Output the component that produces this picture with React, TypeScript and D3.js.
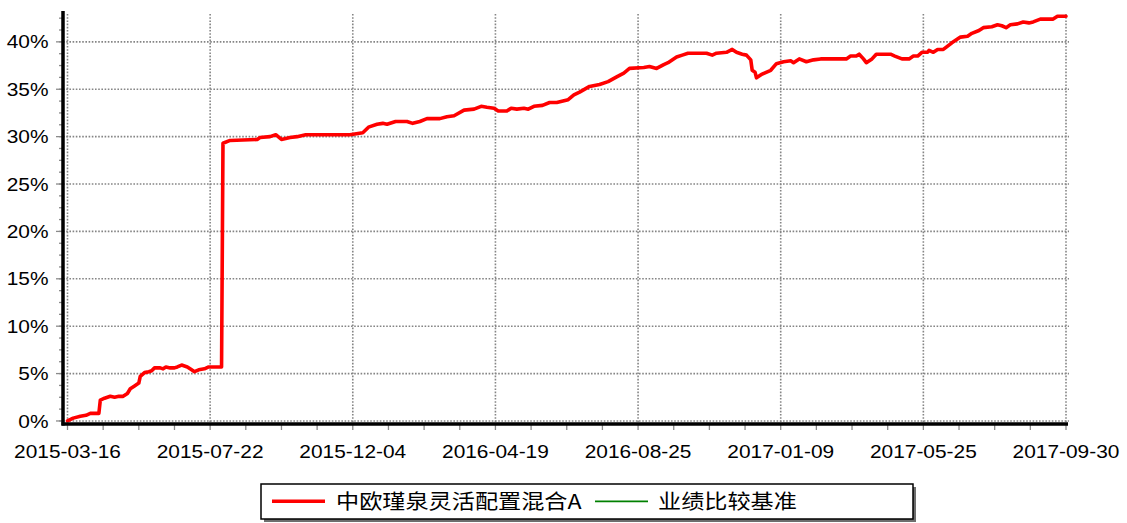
import React from "react";
import * as d3 from "d3";

// trading-day position on a 0..700 axis (each date label every 100)
const dayIndex = [
  0, 4, 9, 13, 16, 22, 23, 26, 30, 33, 36, 39, 42, 44, 47, 50, 51, 54, 57, 59,
  61, 65, 67, 69, 72, 75, 77, 80, 84, 87, 89, 92, 96, 99, 108, 109, 114, 133, 135, 142,
  146, 150, 156, 161, 167, 198, 207, 211, 217, 221, 224, 230, 238, 242, 247, 252, 261, 266, 271, 278,
  285, 290, 294, 299, 302, 308, 311, 315, 320, 323, 327, 333, 338, 343, 351, 355, 359, 366, 373, 379,
  385, 390, 394, 404, 408, 413, 418, 421, 427, 431, 435, 448, 452, 455, 462, 466, 469, 473, 476, 479,
  480, 482, 483, 487, 493, 497, 502, 507, 509, 513, 518, 523, 528, 546, 549, 553, 555, 558, 560, 564,
  567, 577, 580, 585, 590, 593, 596, 599, 603, 604, 607, 610, 614, 620, 626, 631, 634, 639, 642, 648,
  652, 655, 658, 661, 666, 670, 674, 677, 682, 691, 694, 700
];

// cumulative return, %
const returnPct = [
  0.0, 0.3, 0.5, 0.6, 0.8, 0.8, 2.2, 2.4, 2.6, 2.5, 2.6, 2.6, 2.9, 3.4, 3.7, 4.0, 4.7, 5.1, 5.2, 5.3,
  5.6, 5.6, 5.5, 5.7, 5.6, 5.6, 5.7, 5.9, 5.7, 5.4, 5.2, 5.4, 5.5, 5.7, 5.7, 29.3, 29.6, 29.7, 29.9, 30.0,
  30.2, 29.7, 29.9, 30.0, 30.2, 30.2, 30.4, 31.0, 31.3, 31.4, 31.3, 31.6, 31.6, 31.4, 31.6, 31.9, 31.9, 32.1, 32.2, 32.8,
  32.9, 33.2, 33.1, 33.0, 32.7, 32.7, 33.0, 32.9, 33.0, 32.9, 33.2, 33.3, 33.6, 33.6, 33.9, 34.4, 34.7, 35.3, 35.5, 35.8,
  36.3, 36.7, 37.2, 37.3, 37.4, 37.2, 37.6, 37.8, 38.4, 38.6, 38.8, 38.8, 38.6, 38.8, 38.9, 39.2, 38.9, 38.7, 38.6, 38.1,
  37.0, 36.8, 36.2, 36.6, 37.0, 37.7, 37.9, 38.0, 37.8, 38.2, 37.9, 38.1, 38.2, 38.2, 38.5, 38.5, 38.7, 38.2, 37.8, 38.2,
  38.7, 38.7, 38.5, 38.2, 38.2, 38.5, 38.5, 38.9, 38.9, 39.1, 38.9, 39.2, 39.2, 39.9, 40.5, 40.6, 40.9, 41.2, 41.5, 41.6,
  41.8, 41.7, 41.5, 41.8, 41.9, 42.1, 42.0, 42.1, 42.4, 42.4, 42.7, 42.7
];

const dateLabels = [
  "2015-03-16", "2015-07-22", "2015-12-04", "2016-04-19",
  "2016-08-25", "2017-01-09", "2017-05-25", "2017-09-30"
];

const yTicks = [0, 5, 10, 15, 20, 25, 30, 35, 40];

const seriesNames = ["中欧瑾泉灵活配置混合A", "业绩比较基准"];
const seriesColors = ["#ff0000", "#008000"];

const width = 1127;
const height = 523;
const stretch = 1.13;
const latin = "'Liberation Sans', Arial, sans-serif";
const cjk = "'Noto Sans CJK SC', 'Noto Sans', sans-serif";

export default function App() {
  const x = d3.scaleLinear().domain([0, 700]).range([67.5, 1066]);
  const y = d3.scaleLinear().domain([-0.32, 43.15]).range([424, 12]);

  const points = dayIndex.map((d, i) => [d, returnPct[i]] as [number, number]);
  const line = d3.line<[number, number]>()
    .x(d => x(d[0]))
    .y(d => y(d[1]));

  const minorX = d3.range(0, 701, 25);
  const minorY = d3.range(0, 43, 1.25);
  const [top, bottom] = y.range().slice().reverse();

  return (
    <svg
      width={width}
      height={height}
      style={{position: "absolute", left: 0, top: 0, background: "#fff"}}
    >
      {/* grid */}
      {yTicks.map(t => (
        <line key={`gy${t}`} x1={63} x2={1069} y1={y(t)} y2={y(t)}
          stroke="#858585" strokeWidth={1.6} strokeDasharray="1.6,1.6" />
      ))}
      {dateLabels.map((_, i) => (
        <line key={`gx${i}`} x1={x(i * 100)} x2={x(i * 100)} y1={top + 2} y2={bottom}
          stroke="#858585" strokeWidth={1.6} strokeDasharray="1.6,1.6" />
      ))}

      {/* minor / major ticks */}
      {minorY.map(t => (
        <line key={`my${t}`} x1={59} x2={62} y1={y(t)} y2={y(t)} stroke="#8a8a8a" strokeWidth={1.3} />
      ))}
      {yTicks.map(t => (
        <line key={`ty${t}`} x1={56} x2={62} y1={y(t)} y2={y(t)} stroke="#8a8a8a" strokeWidth={1.3} />
      ))}
      {minorX.map(t => (
        <line key={`mx${t}`} x1={x(t)} x2={x(t)} y1={425} y2={430} stroke="#8a8a8a" strokeWidth={1.3} />
      ))}

      {/* series */}
      <path d={line(points) ?? ""} fill="none" stroke={seriesColors[0]} strokeWidth={3.6}
        strokeLinejoin="round" strokeLinecap="round" />

      {/* axes */}
      <line x1={63} x2={63} y1={top - 1} y2={bottom + 1.5} stroke="#000" strokeWidth={3.5} />
      <line x1={61.5} x2={1068} y1={bottom} y2={bottom} stroke="#000" strokeWidth={3.5} />

      {/* tick labels */}
      {yTicks.map(t => (
        <g key={`ly${t}`} transform={`translate(48.5,${y(t)}) scale(${stretch},1)`}>
          <text textAnchor="end" dominantBaseline="central" fontFamily={latin} fontSize={18.5} fill="#000">
            {`${t}%`}
          </text>
        </g>
      ))}
      {dateLabels.map((lab, i) => (
        <g key={`lx${i}`} transform={`translate(${x(i * 100)},458.3) scale(${stretch},1)`}>
          <text textAnchor="middle" fontFamily={latin} fontSize={18.5} fill="#000">{lab}</text>
        </g>
      ))}

      {/* legend */}
      <rect x={264} y={487} width={652} height={35} fill="#6e6e6e" />
      <rect x={261} y={484} width={652} height={35} fill="#fff" stroke="#000" strokeWidth={1.5} />
      <line x1={272} x2={325} y1={501.3} y2={501.3} stroke={seriesColors[0]} strokeWidth={3.6} />
      <g transform={`translate(336,509) scale(${stretch},1)`}>
        <text fontFamily={cjk} fontSize={20.5} fill="#000">{seriesNames[0]}</text>
      </g>
      <line x1={595} x2={648} y1={501.3} y2={501.3} stroke={seriesColors[1]} strokeWidth={1.8} />
      <g transform={`translate(658,509) scale(${stretch},1)`}>
        <text fontFamily={cjk} fontSize={20.5} fill="#000">{seriesNames[1]}</text>
      </g>
    </svg>
  );
}
